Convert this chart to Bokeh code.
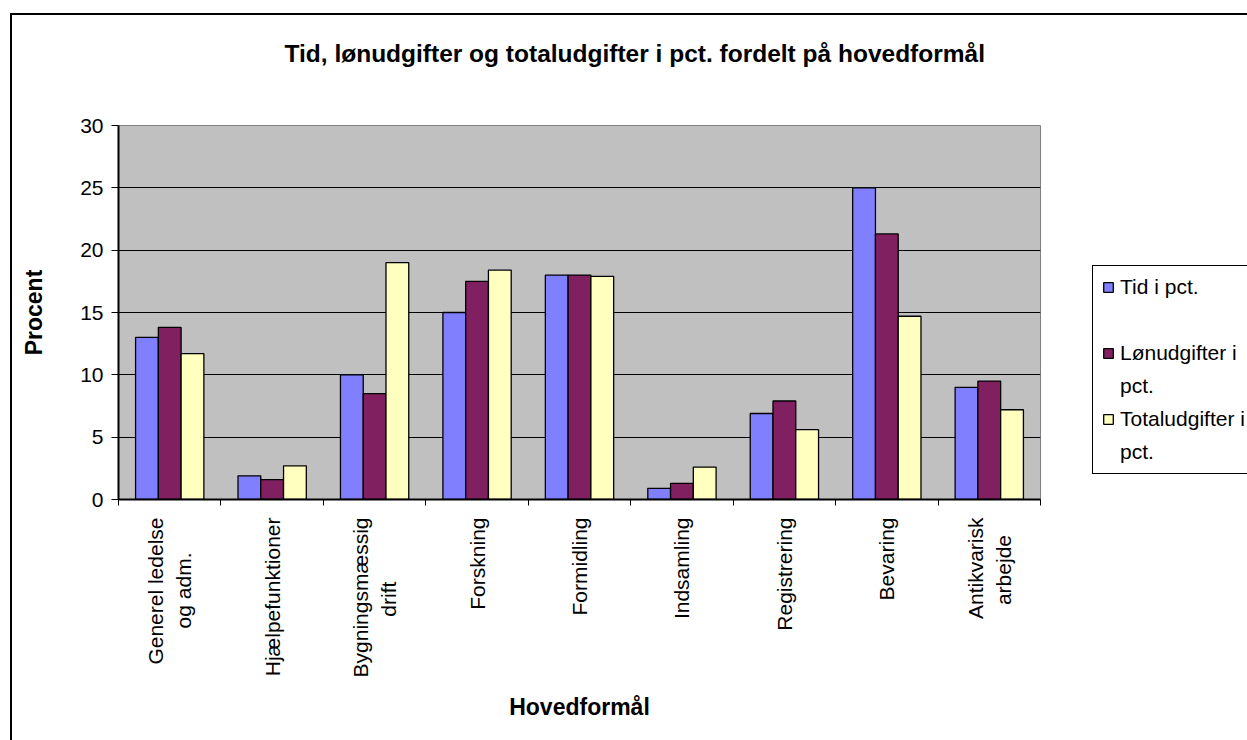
from math import pi
from bokeh.plotting import figure
from bokeh.models import FixedTicker, Legend, LegendItem
from bokeh.embed import file_html
from bokeh.resources import INLINE

# ---------------- data ----------------
categories = [
    ["Generel ledelse", "og adm."],
    ["Hjælpefunktioner"],
    ["Bygningsmæssig", "drift"],
    ["Forskning"],
    ["Formidling"],
    ["Indsamling"],
    ["Registrering"],
    ["Bevaring"],
    ["Antikvarisk", "arbejde"],
]
series_names = [["Tid i pct.", "\u00a0"], ["Lønudgifter i", "pct."], ["Totaludgifter i", "pct."]]
tid = [13.0, 1.9, 10.0, 15.0, 18.0, 0.9, 6.9, 25.0, 9.0]
lon = [13.8, 1.6, 8.5, 17.5, 18.0, 1.3, 7.9, 21.3, 9.5]
total = [11.7, 2.7, 19.0, 18.4, 17.9, 2.6, 5.6, 14.7, 7.2]
y_ticks = [0, 5, 10, 15, 20, 25, 30]
title_text = "Tid, lønudgifter og totaludgifter i pct. fordelt på hovedformål"
x_title = "Hovedformål"
y_title = "Procent"

# ---------------- style ----------------
colors = ["#8080FF", "#802060", "#FFFFC0"]
FONT = "Liberation Sans"
FS = "21px"

# Arial / Liberation Sans advance widths (1/1000 em)
WR = {" ": 278, "\u00a0": 278, "a": 556, "b": 556, "c": 500, "d": 556, "e": 556, "f": 278,
      "g": 556, "h": 556, "i": 222, "j": 222, "k": 500, "l": 222, "m": 833, "n": 556,
      "o": 556, "p": 556, "r": 333, "s": 500, "t": 278, "u": 556, "v": 500, "y": 500,
      "æ": 889, "ø": 611, "å": 556, ".": 278, ",": 278, "A": 667, "B": 667, "F": 611,
      "G": 778, "H": 722, "I": 278, "R": 722, "T": 611, "L": 556}
WB = {" ": 278, "a": 556, "c": 556, "d": 611, "e": 556, "f": 333, "g": 611, "h": 611,
      "i": 278, "l": 278, "m": 889, "n": 611, "o": 611, "p": 611, "r": 389, "t": 333,
      "u": 611, "v": 556, "ø": 611, "å": 556, ".": 278, ",": 278, "T": 611}
def text_w(s, size, table):
    return sum(table.get(ch, 556) for ch in s) * size / 1000.0

# canvas origin on the page (figure margin + 2px border)
OX, OY = 12, 15
PAGE_W, PAGE_H = 1247, 740
FL, FT, FW, FH = 118, 125, 922, 374   # plot frame on the page
FR, FB = FL + FW, FT + FH

n_cat = len(categories)
bw = 1 / 4.5

p = figure(frame_width=FW, frame_height=FH, x_range=(0, n_cat), y_range=(0, 30),
           output_backend="svg", toolbar_location=None,
           min_border_left=FL - OX, min_border_top=FT - OY,
           min_border_right=(PAGE_W - OX) - (FL - OX) - FW,
           min_border_bottom=(PAGE_H - OY) - (FT - OY) - FH)
p.margin = (13, 0, 0, 10)
p.styles = {"border-left": "2px solid black", "border-top": "2px solid black"}
p.background_fill_color = "#C0C0C0"
p.border_fill_color = "white"
p.outline_line_color = "#808080"
p.outline_line_width = 1

renderers = []
for k, (vals, col) in enumerate(zip([tid, lon, total], colors)):
    xs = [i + 0.5 + (k - 1) * bw for i in range(n_cat)]
    r = p.vbar(x=xs, top=vals, bottom=0, width=bw, fill_color=col, line_color="black", line_width=1.3)
    renderers.append(r)
# empty, transparent renderer used for the legend's continuation lines
blank = p.vbar(x=[], top=[], width=bw, fill_alpha=0, line_alpha=0)

# title (extra blank lines lift the visible line above the frame)
title_size = 24.5
p.title.text = title_text + "\n\u00a0\n\u00a0"
p.title.align = "left"
p.title.offset = 634.5 - text_w(title_text, title_size, WB) / 2 - FL
p.title.standoff = 9
p.title.text_font = FONT
p.title.text_font_size = f"{title_size}px"
p.title.text_font_style = "bold"
p.title.text_color = "black"

# y axis
p.yaxis.ticker = FixedTicker(ticks=y_ticks)
p.yaxis.major_label_text_font = FONT
p.yaxis.major_label_text_font_size = FS
p.yaxis.major_label_text_color = "black"
p.yaxis.major_tick_out = 7
p.yaxis.major_tick_in = 0
p.yaxis.minor_tick_line_color = None
p.yaxis.major_label_standoff = 8
p.yaxis.axis_line_color = "black"
p.yaxis.axis_line_width = 2
p.yaxis.major_tick_line_color = "black"
p.yaxis.axis_label = y_title
p.yaxis.axis_label_text_font = FONT
p.yaxis.axis_label_text_font_size = "23px"
p.yaxis.axis_label_text_font_style = "bold"
p.yaxis.axis_label_text_color = "black"
p.yaxis.axis_label_standoff = 30

# x axis: labels at category centres, boundary ticks as minor ticks
centers = [i + 0.5 for i in range(n_cat)]
space_w = text_w("\u00a0", 21, WR)
labels = {}
for c, lines in zip(centers, categories):
    widths = [text_w(l, 21, WR) for l in lines]
    wmax = max(widths)
    padded = [l + "\u00a0" * round((wmax - w) / 2 / space_w) for l, w in zip(lines, widths)]
    labels[c] = "\n".join(padded)
p.xaxis.ticker = FixedTicker(ticks=centers, minor_ticks=list(range(n_cat + 1)))
p.xaxis.major_label_overrides = labels
p.xaxis.major_label_orientation = pi / 2
p.xaxis.major_label_text_font = FONT
p.xaxis.major_label_text_font_size = FS
p.xaxis.major_label_text_color = "black"
p.xaxis.major_tick_line_color = None
p.xaxis.major_tick_out = 0
p.xaxis.major_tick_in = 0
p.xaxis.minor_tick_line_color = "black"
p.xaxis.minor_tick_out = 6
p.xaxis.minor_tick_in = 0
p.xaxis.major_label_standoff = 12
p.xaxis.axis_line_color = "black"
p.xaxis.axis_line_width = 2
p.xaxis.axis_label = x_title
p.xaxis.axis_label_text_font = FONT
p.xaxis.axis_label_text_font_size = "23px"
p.xaxis.axis_label_text_font_style = "bold"
p.xaxis.axis_label_text_color = "black"
p.xaxis.axis_label_standoff = 14

p.xgrid.visible = False
p.ygrid.ticker = FixedTicker(ticks=y_ticks[1:-1])
p.ygrid.grid_line_color = "black"
p.ygrid.grid_line_width = 1

# legend: one line per item; swatch on the first line of each series
items = []
for names, r in zip(series_names, renderers):
    items.append(LegendItem(label=names[0], renderers=[r]))
    items.append(LegendItem(label=names[1], renderers=[blank]))
legend = Legend(items=items, location=(1092 - FR, FB - 474), margin=0,
                padding=9, spacing=9, glyph_width=12, glyph_height=12, label_standoff=6,
                label_text_font=FONT, label_text_font_size=FS, label_text_color="black",
                border_line_color="black", border_line_width=1, border_line_alpha=1,
                background_fill_color="white", background_fill_alpha=1)
p.add_layout(legend, "right")

open("out.html", "w").write(file_html(p, INLINE))
